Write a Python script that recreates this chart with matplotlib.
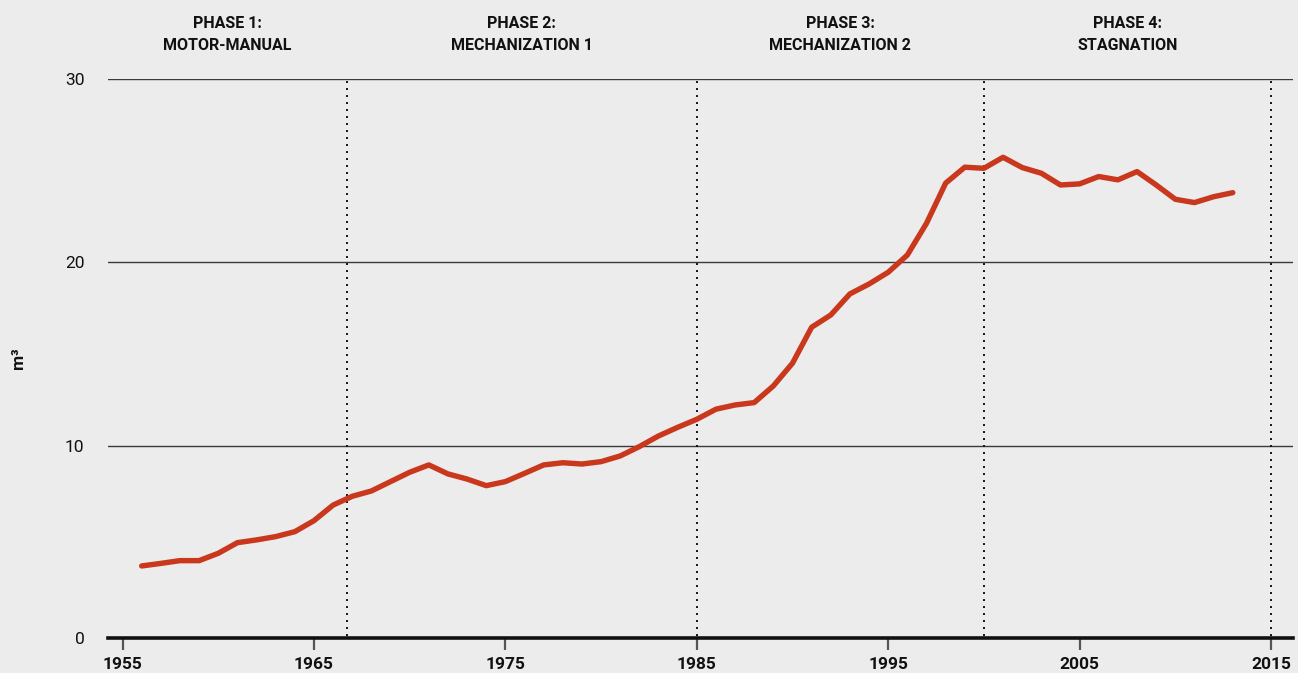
import numpy as np
import matplotlib.pyplot as plt

plt.rcParams['font.family'] = ['Roboto', 'DejaVu Sans']

# harvested volume per working hour, m3
years = list(range(1956, 2014))
volume = [3.44, 3.58, 3.73, 3.73, 4.13, 4.71, 4.86, 5.04, 5.31, 5.91,
          6.76, 7.24, 7.53, 8.04, 8.55, 8.95, 8.46, 8.18, 7.82, 8.04,
          8.49, 8.95, 9.07, 9.00, 9.13, 9.44, 9.95, 10.53, 11.00, 11.44,
          11.99, 12.22, 12.35, 13.26, 14.50, 16.46, 17.13, 18.28, 18.82, 19.46,
          20.40, 22.13, 24.32, 25.19, 25.13, 25.73, 25.17, 24.86, 24.22, 24.28,
          24.68, 24.50, 24.95, 24.22, 23.44, 23.26, 23.58, 23.80]

phase_bounds = [1966.7, 1985, 2000, 2015]
phase_labels = ['PHASE 1:\nMOTOR-MANUAL', 'PHASE 2:\nMECHANIZATION 1',
                'PHASE 3:\nMECHANIZATION 2', 'PHASE 4:\nSTAGNATION']
year_ticks = [1955, 1965, 1975, 1985, 1995, 2005, 2015]
value_ticks = [10, 20, 30]

bg = '#ececec'
fig = plt.figure(figsize=(12.98, 6.73), dpi=100, facecolor=bg)
ax = fig.add_axes([0.0832, 0.052, 0.913, 0.8306], facecolor=bg)

x_min, x_max = 1954.24, 2016.15
y_min, y_max = -0.49, 30
ax.set_xlim(x_min, x_max)
ax.set_ylim(y_min, y_max)

for v in value_ticks:
    ax.axhline(v, color='#3a3a3a', lw=1.0, zorder=1)

for b in phase_bounds:
    ax.plot([b, b], [y_min + 0.1, y_max], color='#111111', lw=1.4,
            ls=(0, (1, 2.6)), zorder=2)

ax.plot(years, volume, color='#c9381d', lw=3.9, solid_capstyle='round',
        solid_joinstyle='round', zorder=3)

# phase headings centred over each segment
edges = [x_min] + phase_bounds
for i, lab in enumerate(phase_labels):
    mid = (edges[i] + edges[i + 1]) / 2
    ax.text(mid, 1.047, lab, transform=ax.get_xaxis_transform(), ha='center',
            va='bottom', fontsize=11.5, fontweight='bold', color='#111111',
            linespacing=1.6)

for s in ['top', 'right', 'left']:
    ax.spines[s].set_visible(False)
ax.spines['bottom'].set_linewidth(2.6)
ax.spines['bottom'].set_color('#111111')

ax.set_xticks(year_ticks)
ax.set_xticklabels([str(y) for y in year_ticks], fontsize=12.5, fontweight='bold',
                   color='#111111')
ax.tick_params(axis='x', direction='out', length=8.5, width=1.6, color='#555555', pad=5)

ax.set_yticks([y_min] + value_ticks)
ax.set_yticklabels(['0'] + [str(v) for v in value_ticks], fontsize=12.5, color='#111111')
ax.tick_params(axis='y', length=0, pad=17)

fig.text(18 / 1298, 0.468, 'm³', rotation=90, ha='center', va='center',
         fontsize=12.5, fontweight='bold', color='#111111')

fig.savefig('out.png', dpi=100, facecolor=bg)
